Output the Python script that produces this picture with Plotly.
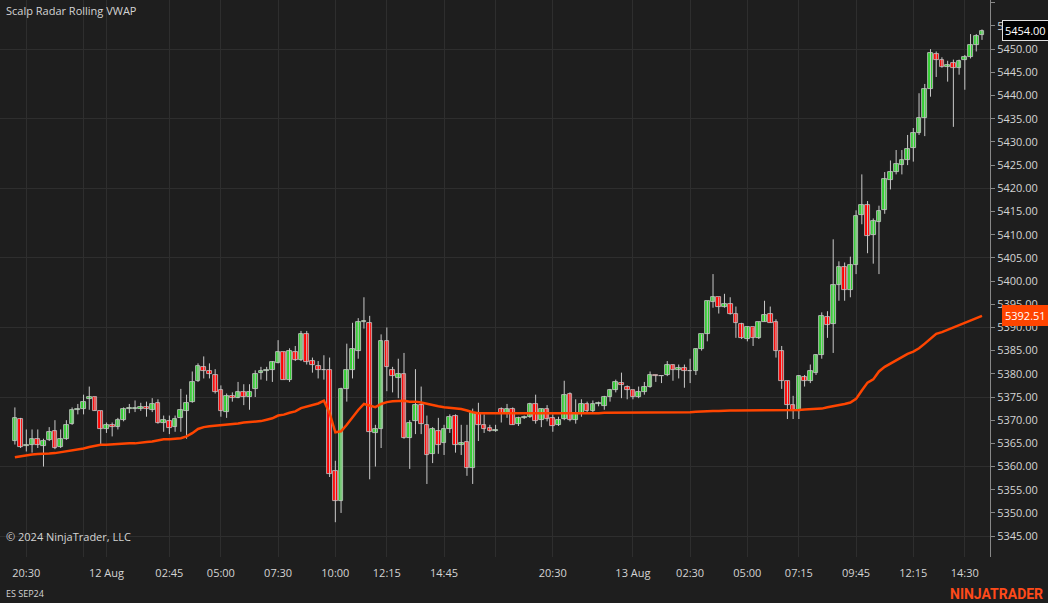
import plotly.graph_objects as go
import pandas as pd

# 15-minute bars, two sessions (break 16:00-17:00)
session1 = pd.date_range("2024-08-11 20:00", "2024-08-12 15:45", freq="15min")
session2 = pd.date_range("2024-08-12 17:00", "2024-08-13 15:15", freq="15min")
times = list(session1) + list(session2)

opens = [5365.5,5370.25,5364.5,5364.75,5366.0,5364.5,5365.75,5367.75,5364.25,5366.0,
5369.25,5372.25,5372.5,5374.5,5375.0,5372.0,5368.0,5369.0,5368.5,5370.0,
5372.5,5372.5,5372.5,5372.75,5372.25,5373.75,5369.5,5369.75,5368.5,5370.5,
5372.0,5374.0,5378.5,5381.5,5380.5,5379.75,5376.5,5371.75,5375.25,5374.75,
5376.0,5375.0,5376.75,5380.25,5380.5,5380.75,5382.25,5384.75,5378.75,5384.75,
5383.0,5388.5,5382.75,5381.75,5380.75,5380.75,5359.0,5352.5,5376.75,5380.75,
5385.0,5391.25,5391.0,5367.25,5368.0,5387.0,5380.75,5379.0,5380.0,5366.25,
5369.75,5373.25,5369.0,5362.75,5367.75,5365.0,5368.0,5371.0,5364.75,5365.25,
5359.75,5371.5,5369.0,5368.25,5367.75,5372.5,5371.5,5372.5,5369.25,5370.5,
5370.75,5373.5,5370.0,5372.5,5370.5,5369.0,5370.25,5375.75,5370.0,5371.5,
5373.5,5372.0,5373.5,5373.0,5375.0,5376.5,5378.0,5377.25,5376.5,5375.0,
5376.0,5377.25,5379.75,5379.5,5379.75,5382.0,5380.75,5381.25,5380.5,5380.5,
5385.25,5388.5,5395.5,5396.5,5394.5,5395.0,5393.0,5390.75,5387.5,5390.0,
5387.75,5391.25,5393.0,5391.25,5385.0,5378.5,5373.25,5372.0,5379.25,5378.5,
5380.25,5384.0,5392.25,5390.75,5399.25,5403.0,5398.0,5403.5,5414.25,5416.5,
5410.0,5412.75,5415.25,5421.75,5423.5,5425.0,5426.0,5428.75,5432.0,5435.25,
5441.5,5449.0,5447.75,5446.25,5447.0,5446.0,5447.75,5448.25,5451.0,5453.0]
highs = [5372.75,5370.5,5368.0,5368.0,5368.0,5366.0,5368.5,5370.0,5368.0,5370.0,
5372.75,5373.5,5375.5,5377.25,5375.0,5372.0,5369.5,5369.5,5370.5,5372.75,
5373.5,5374.25,5373.75,5374.0,5374.75,5374.5,5371.0,5371.0,5371.0,5376.75,
5375.5,5380.5,5382.25,5383.75,5382.25,5381.0,5377.5,5375.75,5376.0,5378.25,
5377.75,5377.75,5380.75,5381.5,5381.5,5382.75,5387.25,5384.75,5385.5,5386.0,
5389.25,5389.25,5383.5,5382.75,5384.0,5383.5,5361.25,5377.0,5386.5,5391.0,
5392.0,5396.5,5392.5,5369.0,5388.5,5390.0,5381.5,5383.25,5384.5,5370.0,
5381.0,5377.25,5371.0,5368.5,5370.5,5369.0,5371.25,5371.25,5369.0,5369.0,
5372.5,5373.75,5371.25,5369.0,5369.0,5372.75,5373.5,5372.75,5370.75,5371.0,
5373.75,5375.5,5372.5,5373.25,5371.25,5370.75,5378.5,5376.0,5374.5,5374.5,
5374.0,5374.25,5374.0,5375.25,5376.75,5378.75,5380.25,5377.5,5376.5,5377.25,
5378.25,5380.5,5379.75,5379.5,5382.75,5382.0,5382.0,5382.0,5383.25,5385.5,
5388.5,5395.75,5401.5,5396.5,5397.25,5396.5,5394.5,5391.0,5390.25,5390.0,
5391.25,5395.75,5394.5,5391.75,5386.0,5378.5,5375.25,5379.75,5379.75,5382.0,
5384.25,5393.25,5393.5,5409.0,5404.25,5404.0,5405.25,5415.25,5423.0,5417.25,
5413.5,5416.25,5423.5,5426.0,5428.25,5428.25,5431.5,5433.0,5440.5,5442.5,
5450.0,5449.5,5448.25,5447.5,5447.75,5447.75,5448.75,5453.25,5453.25,5454.25]
lows = [5364.75,5364.0,5363.25,5363.0,5364.0,5360.0,5365.5,5363.75,5364.0,5365.75,
5369.0,5371.25,5371.25,5372.25,5372.0,5364.5,5367.25,5366.5,5368.0,5369.75,
5371.5,5371.75,5372.0,5370.75,5371.75,5369.25,5367.5,5367.0,5367.5,5367.5,
5366.0,5373.75,5378.25,5379.0,5379.0,5375.75,5370.75,5370.5,5374.0,5374.75,
5373.25,5372.25,5375.0,5378.75,5378.5,5378.25,5382.25,5378.75,5378.25,5382.75,
5382.75,5382.0,5380.25,5379.0,5378.75,5357.75,5348.0,5350.0,5374.0,5379.0,
5383.25,5389.75,5357.25,5360.0,5364.0,5376.25,5376.0,5374.75,5366.0,5359.5,
5367.0,5367.0,5356.25,5360.75,5362.75,5362.5,5367.25,5363.0,5362.5,5358.0,
5356.25,5365.5,5367.25,5367.5,5367.5,5369.5,5370.5,5369.0,5368.75,5370.25,
5370.5,5369.25,5368.5,5369.75,5367.5,5368.75,5370.0,5369.75,5369.25,5370.75,
5371.75,5371.75,5373.0,5372.25,5374.0,5376.0,5374.75,5374.5,5374.5,5374.75,
5375.5,5377.0,5378.25,5378.0,5379.5,5378.5,5379.0,5377.0,5378.0,5379.75,
5385.0,5387.0,5394.25,5393.0,5394.25,5392.75,5387.75,5387.5,5387.0,5386.0,
5387.5,5391.25,5391.0,5383.5,5376.75,5370.25,5370.25,5370.25,5377.25,5378.0,
5379.75,5383.25,5387.75,5384.5,5395.75,5395.75,5396.5,5401.5,5412.25,5406.0,
5403.75,5401.5,5414.5,5419.75,5423.0,5423.0,5425.0,5425.75,5431.5,5431.25,
5439.75,5444.0,5446.0,5443.0,5433.25,5444.5,5441.25,5448.0,5449.5,5452.0]
closes = [5370.5,5364.25,5364.5,5366.0,5364.75,5365.5,5367.5,5364.0,5366.0,5369.0,
5372.25,5372.5,5374.0,5375.0,5372.0,5368.0,5369.0,5368.5,5370.0,5372.5,
5372.5,5372.5,5372.75,5372.5,5373.5,5369.5,5370.0,5368.25,5370.25,5372.25,
5373.75,5378.25,5381.75,5380.5,5380.0,5376.0,5372.0,5375.25,5374.75,5376.0,
5375.0,5376.0,5380.0,5380.5,5380.75,5382.5,5384.75,5378.75,5385.0,5383.0,
5388.5,5382.5,5382.0,5380.75,5380.75,5358.5,5352.5,5376.75,5380.75,5385.25,
5391.25,5391.25,5367.5,5368.0,5387.0,5381.5,5379.5,5380.0,5366.25,5369.5,
5373.25,5369.25,5362.5,5368.0,5364.75,5368.0,5370.75,5364.75,5365.0,5359.75,
5371.5,5369.0,5368.0,5367.75,5367.75,5371.5,5372.5,5369.0,5370.5,5370.75,
5373.5,5369.75,5372.5,5370.25,5368.75,5370.0,5375.5,5370.0,5371.25,5373.5,
5372.0,5373.5,5373.5,5375.0,5376.5,5378.25,5377.5,5376.5,5375.0,5376.0,
5377.25,5379.75,5379.5,5379.5,5382.0,5380.75,5381.25,5380.5,5380.5,5385.25,
5388.5,5395.75,5396.5,5394.5,5395.0,5393.0,5391.0,5387.75,5390.0,5387.75,
5391.25,5392.75,5391.0,5385.0,5378.5,5373.25,5372.0,5379.5,5378.5,5380.5,
5384.0,5392.5,5390.5,5399.25,5403.0,5398.0,5403.5,5414.0,5416.5,5409.75,
5413.0,5415.0,5422.0,5423.5,5425.25,5426.0,5428.5,5432.0,5435.25,5441.5,
5449.25,5447.75,5446.25,5446.5,5446.0,5447.5,5448.25,5451.0,5452.75,5454.0]
vwap = [5362.0,5362.2,5362.5,5362.6,5362.7,5362.7,5362.8,5362.9,5363.1,5363.2,
5363.5,5363.7,5363.9,5364.2,5364.5,5364.7,5364.7,5364.8,5364.9,5365.0,
5365.0,5365.0,5365.2,5365.3,5365.4,5365.6,5365.9,5365.9,5366.0,5366.1,
5366.5,5367.2,5368.1,5368.5,5368.7,5368.8,5369.0,5369.1,5369.1,5369.3,
5369.5,5369.6,5369.7,5369.8,5370.1,5370.4,5371.0,5371.2,5371.6,5371.9,
5372.6,5372.9,5373.2,5373.6,5374.2,5371.5,5367.4,5367.6,5369.0,5370.6,
5372.2,5373.5,5373.2,5372.8,5373.5,5373.9,5374.1,5374.2,5374.2,5374.0,
5374.0,5373.8,5373.5,5373.2,5373.0,5372.8,5372.7,5372.6,5372.4,5372.1,
5371.7,5371.5,5371.5,5371.5,5371.4,5371.4,5371.5,5371.5,5371.5,5371.5,
5371.5,5371.5,5371.5,5371.5,5371.5,5371.5,5371.5,5371.5,5371.5,5371.5,
5371.5,5371.5,5371.5,5371.6,5371.6,5371.7,5371.7,5371.7,5371.7,5371.7,
5371.6,5371.6,5371.6,5371.6,5371.6,5371.6,5371.6,5371.6,5371.7,5371.8,
5371.9,5372.0,5372.0,5372.0,5372.1,5372.1,5372.1,5372.1,5372.1,5372.1,
5372.1,5372.1,5372.2,5372.2,5372.2,5372.2,5372.2,5372.2,5372.3,5372.4,
5372.5,5372.5,5372.8,5373.0,5373.2,5373.5,5373.8,5374.6,5376.4,5378.1,
5378.8,5380.5,5381.5,5382.2,5383.0,5383.6,5384.3,5384.8,5385.5,5386.5,
5387.5,5388.6,5389.0,5389.5,5390.0,5390.5,5391.0,5391.6,5392.0,5392.51]

tick_bars = [2, 12, 16, 27, 36, 46, 56, 65, 75, 84, 94, 108, 118, 128, 137, 147, 157, 166]
hidden_ticks = {12, 84}

def label(i):
    t = times[i]
    if i in hidden_ticks:
        return ""
    if t.hour == 0 and t.minute == 0:
        return f"{t.day} Aug"
    return t.strftime("%H:%M")

ticktext = [label(i) for i in tick_bars]
x = list(range(len(times)))

BG = "#1e1e1e"
GRID = "#2e2e2e"
TXT = "#d4d4d4"
WICK = "#c8c8c8"

wx, wy = [], []
for i in x:
    wx += [i, i, None]
    wy += [lows[i], highs[i], None]
base = [min(o, c) for o, c in zip(opens, closes)]
height = [max(abs(c - o), 0.12) for o, c in zip(opens, closes)]
colors = ["#32cd32" if c >= o else "#ff0000" for o, c in zip(opens, closes)]

fig = go.Figure()
fig.add_trace(go.Scatter(x=wx, y=wy, mode="lines", line=dict(color=WICK, width=1),
                         showlegend=False, hoverinfo="skip"))
fig.add_trace(go.Bar(x=x, y=height, base=base, width=0.82, marker=dict(color=colors,
                     line=dict(color=WICK, width=0.8)), showlegend=False, hoverinfo="skip"))
fig.add_trace(go.Scatter(x=x, y=vwap, mode="lines",
    line=dict(color="#ff4500", width=2.5), showlegend=False, hoverinfo="skip"))
fig.add_trace(go.Scatter(x=[0], y=[5400], mode="markers", marker=dict(opacity=0),
    yaxis="y2", showlegend=False, hoverinfo="skip"))

yr = [5340.5, 5460.6]
fig.update_layout(
    width=1048, height=603, paper_bgcolor=BG, plot_bgcolor=BG,
    margin=dict(l=0, r=58, t=0, b=46, autoexpand=False),
    font=dict(family="Open Sans", size=11, color=TXT),
    bargap=0,
    xaxis=dict(range=[-2.6, 170.4], tickmode="array", tickvals=tick_bars, ticktext=ticktext,
               showgrid=True, gridcolor=GRID, gridwidth=1, zeroline=False,
               ticks="", ticklabelstandoff=8, tickfont=dict(size=11, color=TXT), showline=False),
    yaxis=dict(range=yr, side="right", dtick=5, tick0=5345, tickformat=".2f",
               showgrid=False, zeroline=False, ticks="outside", ticklen=4, tickcolor="#888",
               showline=True, linecolor="#888", tickfont=dict(size=11, color=TXT)),
    yaxis2=dict(range=yr, overlaying="y", dtick=15, tick0=5345, showgrid=True,
                gridcolor=GRID, showticklabels=False, zeroline=False, side="right"),
    annotations=[
        dict(text="Scalp Radar Rolling VWAP", xref="paper", yref="paper", x=0.004, y=0.998,
             xanchor="left", yanchor="top", showarrow=False, font=dict(size=11, color=TXT)),
        dict(text="© 2024 NinjaTrader, LLC", xref="paper", yref="paper", x=0.004, y=0.02,
             xanchor="left", yanchor="bottom", showarrow=False, font=dict(size=11, color=TXT)),
        dict(text="ES SEP24", xref="paper", yref="paper", x=0.004, y=-0.066,
             xanchor="left", yanchor="middle", showarrow=False, font=dict(size=9, color=TXT)),
        dict(text="<b>NINJATRADER</b>", xref="paper", yref="paper", x=1.056, y=-0.066,
             xanchor="right", yanchor="middle", showarrow=False,
             font=dict(size=14, color="#ff4a1a", family="Roboto")),
        dict(text="5454.00", xref="paper", yref="y", x=1.012, y=closes[-1], xanchor="left",
             showarrow=False, bgcolor="#000000", bordercolor="#e0e0e0", borderwidth=1,
             borderpad=2, font=dict(size=11, color="#ffffff")),
        dict(text="5392.51", xref="paper", yref="y", x=1.012, y=vwap[-1], xanchor="left",
             showarrow=False, bgcolor="#ff4500", bordercolor="#ff4500", borderwidth=1,
             borderpad=2, font=dict(size=11, color="#ffffff")),
    ],
)
fig.write_html("out.html", config={"displayModeBar": False},
               post_script="document.body.style.margin='0';document.body.style.overflow='hidden';")
